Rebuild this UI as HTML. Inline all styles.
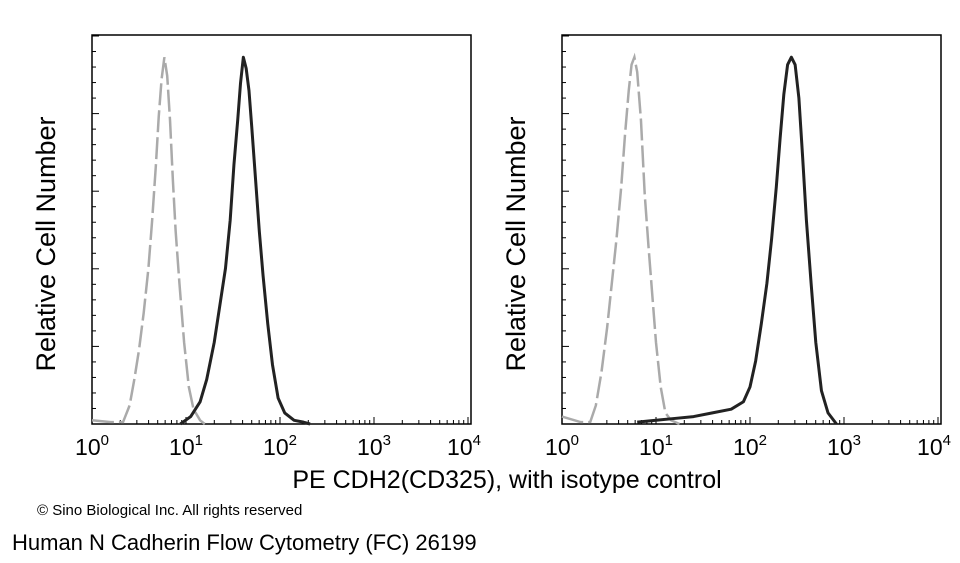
<!DOCTYPE html>
<html><head><meta charset="utf-8"><style>
body{margin:0;background:#fff;width:960px;height:563px;overflow:hidden;font-family:"Liberation Sans",Arial,sans-serif}
svg{position:absolute;left:0;top:0}
</style></head><body>
<svg id="chart" width="960" height="563"></svg>
<script>
// Data: [log10 fluorescence, relative count %]
const leftIsoX = [0,0.2,0.33,0.4,0.45,0.5,0.55,0.6,0.64,0.68,0.71,0.74,0.77,0.8,0.83,0.86,0.89,0.93,0.98,1.03,1.08,1.15,1.2];
const leftIsoY = [1,0.5,0.5,5,12,20,30,42,55,70,83,93,99,94,82,66,52,38,22,10,4,1,0];
const leftStainX = [0.94,1.05,1.15,1.22,1.3,1.36,1.42,1.47,1.51,1.55,1.58,1.61,1.64,1.67,1.7,1.74,1.78,1.82,1.87,1.92,1.98,2.05,2.15,2.25,2.32];
const leftStainY = [0,2,6,12,22,32,42,55,70,82,92,99,96,90,80,66,52,40,27,16,7,3,1,0.5,0];
const rightIsoX = [0,0.2,0.3,0.36,0.42,0.48,0.53,0.58,0.63,0.67,0.71,0.74,0.77,0.8,0.84,0.88,0.92,0.96,1.0,1.05,1.1,1.16,1.25];
const rightIsoY = [2,0.5,0.5,5,14,26,38,50,64,78,90,97,99,95,82,62,48,35,22,10,3,1,0];
const rightStainX = [0.8,1.0,1.2,1.4,1.6,1.8,1.93,2.0,2.06,2.12,2.18,2.23,2.28,2.32,2.36,2.4,2.44,2.48,2.52,2.56,2.6,2.65,2.7,2.76,2.83,2.92];
const rightStainY = [0.5,1,1.5,2,3,4,6,10,17,27,38,50,64,77,89,97,99,97,88,72,55,38,22,9,3,0];
const xTicks = [0,1,2,3,4];

const NS='http://www.w3.org/2000/svg';
const svg=document.getElementById('chart');
function el(tag,attrs,parent){const e=document.createElementNS(NS,tag);for(const k in attrs)e.setAttribute(k,attrs[k]);(parent||svg).appendChild(e);return e;}

function panel(x0,name,isoX,isoY,stX,stY){
  const top=35,bottom=424,w=379,dec=94;
  const g=el('g',{});
  
  
  const sx=v=>x0+v*dec;
  const sy=v=>bottom-(v/105)*(bottom-top);
  const fr=el('rect',{x:x0,y:top,width:w,height:bottom-top,fill:'none',stroke:'#000','stroke-width':1.5},g);
  
  
  const step=77.6;
  for(let k=0;k*step/5<bottom-top;k++){
    const y=bottom-k*step/5; const major=k%5===0;
    el('line',{x1:x0,x2:x0+(major?7:4),y1:y,y2:y,stroke:'#000','stroke-width':1},g);
  }
  xTicks.forEach((t,i)=>{
    const x=sx(t);
    el('line',{x1:x,x2:x,y1:bottom,y2:bottom-7,stroke:'#000','stroke-width':1},g);
    if(i<xTicks.length-1){for(let m=2;m<10;m++){const xm=sx(t+Math.log10(m));el('line',{x1:xm,x2:xm,y1:bottom,y2:bottom-4,stroke:'#000','stroke-width':1},g);}}
    const tx=el('text',{x:x+(i===4?-4:0),y:455,'text-anchor':'middle','font-size':23,fill:'#000'},g);
    
    
    tx.textContent='10';
    const sp=el('tspan',{dy:-10,'font-size':15},tx);sp.textContent=String(t);
  });
  const iso=el('polyline',{points:isoX.map((v,i)=>sx(v)+','+sy(isoY[i])).join(' '),fill:'none',stroke:'#aaa','stroke-width':2.5,'stroke-dasharray':'22 5'},g);
  
  
  const st=el('polyline',{points:stX.map((v,i)=>sx(v)+','+sy(stY[i])).join(' '),fill:'none',stroke:'#222','stroke-width':3,'stroke-linejoin':'round'},g);
  
  
  const yl=el('text',{x:0,y:0,transform:`translate(${x0-37},244) rotate(-90)`,'text-anchor':'middle','font-size':27,fill:'#000'},g);
  
  
  yl.textContent='Relative Cell Number';
}
panel(92,'left-panel',leftIsoX,leftIsoY,leftStainX,leftStainY);
panel(562,'right-panel',rightIsoX,rightIsoY,rightStainX,rightStainY);

const xt=el('text',{x:507,y:488,'text-anchor':'middle','font-size':25,fill:'#000'});


xt.textContent='PE CDH2(CD325), with isotype control';
const cp=el('text',{x:37,y:515,'font-size':15,fill:'#000'});


cp.textContent='© Sino Biological Inc. All rights reserved';
const ft=el('text',{x:12,y:550,'font-size':22,fill:'#000'});


ft.textContent='Human N Cadherin Flow Cytometry (FC) 26199';
</script>
</body></html>
